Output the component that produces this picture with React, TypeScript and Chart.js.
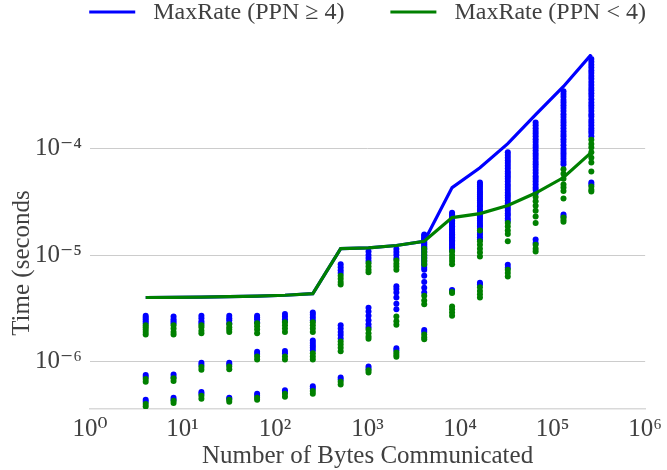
import React, { useEffect, useRef } from 'react';
import Chart from 'chart.js/auto';

const bytes = [4, 8, 16, 32, 64, 128, 256, 512, 1024, 2048, 4096, 8192, 16384, 32768, 65536, 131072, 262144];

const maxRateHighLabel = 'MaxRate (PPN ≥ 4)';
const maxRateLowLabel = 'MaxRate (PPN < 4)';
const xAxisTitle = 'Number of Bytes Communicated';
const yAxisTitle = 'Time (seconds';

const maxRateHigh = [4.0e-6, 4.02e-6, 4.04e-6, 4.07e-6, 4.12e-6, 4.2e-6, 4.35e-6, 1.15e-5, 1.17e-5, 1.23e-5, 1.35e-5, 4.3e-5, 6.6e-5, 1.11e-4, 2.08e-4, 3.82e-4, 7.64e-4];
const maxRateLow = [4.0e-6, 4.02e-6, 4.04e-6, 4.07e-6, 4.12e-6, 4.2e-6, 4.35e-6, 1.15e-5, 1.17e-5, 1.23e-5, 1.35e-5, 2.25e-5, 2.45e-5, 2.92e-5, 3.82e-5, 5.34e-5, 9.2e-5];

const highPpnTimes: number[][] = [
  [2.7e-6, 2.6e-6, 2.5e-6, 2.4e-6, 2.3e-6, 7.5e-7, 7.2e-7, 4.4e-7, 4.2e-7],
  [2.65e-6, 2.5e-6, 2.4e-6, 2.3e-6, 7.6e-7, 7.2e-7, 4.6e-7, 4.4e-7],
  [2.7e-6, 2.55e-6, 2.4e-6, 2.3e-6, 9.8e-7, 9.3e-7, 5.2e-7, 5.0e-7],
  [2.7e-6, 2.55e-6, 2.45e-6, 2.3e-6, 9.8e-7, 9.4e-7, 4.6e-7, 4.5e-7],
  [2.7e-6, 2.6e-6, 2.5e-6, 2.35e-6, 1.24e-6, 1.18e-6, 5.0e-7, 4.8e-7],
  [2.8e-6, 2.65e-6, 2.5e-6, 2.4e-6, 1.26e-6, 1.2e-6, 5.4e-7, 5.2e-7],
  [2.9e-6, 2.75e-6, 2.6e-6, 2.45e-6, 1.58e-6, 1.5e-6, 1.42e-6, 1.35e-6, 1.28e-6, 5.9e-7, 5.6e-7],
  [8.2e-6, 7.7e-6, 7.2e-6, 6.8e-6, 2.2e-6, 2.05e-6, 1.9e-6, 1.78e-6, 1.65e-6, 7.1e-7, 6.8e-7],
  [1.08e-5, 1.0e-5, 9.4e-6, 8.8e-6, 3.2e-6, 2.95e-6, 2.7e-6, 2.45e-6, 2.25e-6, 2.1e-6, 9.0e-7, 8.6e-7],
  [1.14e-5, 1.07e-5, 1.0e-5, 9.3e-6, 5.1e-6, 4.8e-6, 4.45e-6, 4.0e-6, 3.5e-6, 3.1e-6, 1.34e-6, 1.28e-6],
  [1.56e-5, 1.52e-5, 1.48e-5, 1.44e-5, 1.4e-5, 1.36e-5, 1.32e-5, 1.28e-5, 1.25e-5, 1.21e-5, 1.18e-5, 1.15e-5, 1.12e-5, 1.08e-5, 1.05e-5, 1.01e-5, 9.8e-6, 9.5e-6, 9.2e-6, 8.9e-6, 8.6e-6, 8.3e-6, 8.0e-6, 7.6e-6, 7.3e-6, 6.4e-6, 5.6e-6, 4.95e-6, 4.45e-6, 1.98e-6, 1.9e-6],
  [2.5e-5, 2.42e-5, 2.35e-5, 2.27e-5, 2.2e-5, 2.12e-5, 2.05e-5, 1.98e-5, 1.92e-5, 1.86e-5, 1.8e-5, 1.74e-5, 1.68e-5, 1.62e-5, 1.57e-5, 1.52e-5, 1.47e-5, 1.42e-5, 1.38e-5, 1.34e-5, 1.3e-5, 1.26e-5, 1.22e-5, 1.18e-5, 1.15e-5, 1.1e-5, 4.7e-6, 4.6e-6],
  [4.8e-5, 4.6e-5, 4.4e-5, 4.2e-5, 4.0e-5, 3.85e-5, 3.7e-5, 3.55e-5, 3.4e-5, 3.25e-5, 3.1e-5, 2.95e-5, 2.85e-5, 2.7e-5, 2.6e-5, 2.5e-5, 2.4e-5, 2.3e-5, 2.2e-5, 2.1e-5, 2.0e-5, 1.92e-5, 1.85e-5, 1.77e-5, 1.7e-5, 1.62e-5, 1.55e-5, 1.47e-5, 1.4e-5, 5.5e-6, 5.3e-6],
  [9.2e-5, 8.7e-5, 8.2e-5, 7.7e-5, 7.3e-5, 6.9e-5, 6.5e-5, 6.1e-5, 5.8e-5, 5.5e-5, 5.2e-5, 4.9e-5, 4.6e-5, 4.35e-5, 4.1e-5, 3.85e-5, 3.65e-5, 3.45e-5, 3.25e-5, 3.05e-5, 2.9e-5, 2.75e-5, 2.6e-5, 2.45e-5, 2.35e-5, 2.2e-5, 2.1e-5, 8.1e-6, 7.6e-6],
  [1.75e-4, 1.65e-4, 1.55e-4, 1.46e-4, 1.38e-4, 1.3e-4, 1.22e-4, 1.15e-4, 1.08e-4, 1.02e-4, 9.6e-5, 9.0e-5, 8.5e-5, 8.0e-5, 7.5e-5, 7.1e-5, 6.7e-5, 6.3e-5, 5.9e-5, 5.5e-5, 5.2e-5, 4.9e-5, 4.6e-5, 4.3e-5, 4.1e-5, 3.8e-5, 1.4e-5, 1.3e-5],
  [3.45e-4, 3.25e-4, 3.05e-4, 2.85e-4, 2.7e-4, 2.55e-4, 2.4e-4, 2.25e-4, 2.1e-4, 1.97e-4, 1.85e-4, 1.75e-4, 1.65e-4, 1.55e-4, 1.45e-4, 1.37e-4, 1.3e-4, 1.22e-4, 1.15e-4, 1.07e-4, 1.0e-4, 9.5e-5, 9.0e-5, 8.5e-5, 8.0e-5, 7.5e-5, 7.1e-5, 2.4e-5, 2.3e-5],
  [6.9e-4, 6.5e-4, 6.1e-4, 5.75e-4, 5.4e-4, 5.1e-4, 4.8e-4, 4.5e-4, 4.2e-4, 3.95e-4, 3.7e-4, 3.5e-4, 3.3e-4, 3.1e-4, 2.9e-4, 2.7e-4, 2.55e-4, 2.4e-4, 2.25e-4, 2.1e-4, 2.0e-4, 1.85e-4, 1.75e-4, 1.65e-4, 1.55e-4, 1.47e-4, 1.4e-4, 1.3e-4, 4.8e-5, 4.6e-5],
];

const lowPpnTimes: number[][] = [
  [2.2e-6, 2.1e-6, 2.0e-6, 1.9e-6, 1.8e-6, 6.9e-7, 6.5e-7, 4.0e-7, 3.8e-7],
  [2.2e-6, 2.05e-6, 1.9e-6, 1.8e-6, 7.0e-7, 6.6e-7, 4.3e-7, 4.1e-7],
  [2.2e-6, 2.1e-6, 1.95e-6, 1.85e-6, 8.9e-7, 8.4e-7, 4.8e-7, 4.5e-7],
  [2.25e-6, 2.1e-6, 2.0e-6, 1.9e-6, 9.0e-7, 8.5e-7, 4.4e-7, 4.2e-7],
  [2.3e-6, 2.15e-6, 2.0e-6, 1.85e-6, 1.12e-6, 1.05e-6, 4.6e-7, 4.4e-7],
  [2.35e-6, 2.2e-6, 2.05e-6, 1.9e-6, 1.12e-6, 1.05e-6, 5.0e-7, 4.7e-7],
  [2.35e-6, 2.2e-6, 2.05e-6, 1.9e-6, 1.2e-6, 1.12e-6, 1.05e-6, 5.3e-7, 5.0e-7],
  [6.4e-6, 6.0e-6, 5.6e-6, 5.3e-6, 1.55e-6, 1.45e-6, 1.35e-6, 1.25e-6, 6.5e-7, 6.1e-7],
  [8.4e-6, 7.8e-6, 7.3e-6, 6.9e-6, 2.0e-6, 1.85e-6, 1.72e-6, 1.64e-6, 8.3e-7, 7.9e-7],
  [8.9e-6, 8.3e-6, 7.8e-6, 7.3e-6, 2.65e-6, 2.4e-6, 2.22e-6, 1.22e-6, 1.16e-6, 1.11e-6],
  [1.15e-5, 1.07e-5, 1.0e-5, 9.4e-6, 8.8e-6, 8.2e-6, 4.15e-6, 3.75e-6, 3.45e-6, 1.8e-6, 1.7e-6, 1.62e-6],
  [1.08e-5, 1.0e-5, 9.4e-6, 8.8e-6, 8.2e-6, 4.5e-6, 4.4e-6, 3.3e-6, 3.1e-6, 2.9e-6, 2.7e-6],
  [1.7e-5, 1.35e-5, 1.25e-5, 1.15e-5, 1.06e-5, 9.7e-6, 5.0e-6, 4.6e-6, 4.3e-6, 4.0e-6],
  [2.0e-5, 1.85e-5, 1.7e-5, 1.58e-5, 1.35e-5, 7.3e-6, 6.8e-6, 6.3e-6],
  [3.5e-5, 3.2e-5, 2.9e-5, 2.6e-5, 2.3e-5, 2.0e-5, 1.25e-5, 1.15e-5, 1.08e-5],
  [6.4e-5, 5.8e-5, 5.2e-5, 4.6e-5, 4.3e-5, 4.0e-5, 3.4e-5, 2.25e-5, 2.15e-5, 2.06e-5],
  [1.21e-4, 1.1e-4, 1.02e-4, 9.2e-5, 8.2e-5, 7.4e-5, 6.1e-5, 4.4e-5, 4.1e-5, 3.95e-5],
];

const xTickValues = [1, 10, 100, 1e3, 1e4, 1e5, 1e6];
const xTickLabels = ['10⁰', '10¹', '10²', '10³', '10⁴', '10⁵', '10⁶'];
const yTickValues = [1e-6, 1e-5, 1e-4];
const yTickLabels = ['10⁻⁶', '10⁻⁵', '10⁻⁴'];

const BLUE = '#0000ff';
const GREEN = '#008000';
const TEXT = '#404040';
const FONT = '"Liberation Serif", "DejaVu Serif", serif';

const legendPlugin = {
  id: 'topLineLegend',
  afterDraw(chart: any) {
    const ctx = chart.ctx;
    const items = chart.data.datasets
      .filter((d: any) => d.showLine)
      .sort((a: any, b: any) => b.order - a.order);
    ctx.save();
    ctx.font = `24px ${FONT}`;
    const lineLen = 46, gap = 18, itemGap = 46;
    const widths = items.map((d: any) => ctx.measureText(d.label).width);
    const total = widths.reduce((a: number, w: number) => a + lineLen + gap + w, 0) + itemGap * (items.length - 1);
    let x = (chart.chartArea.left + chart.chartArea.right) / 2 - total / 2;
    const y = 12;
    items.forEach((d: any, i: number) => {
      ctx.strokeStyle = d.borderColor;
      ctx.lineWidth = 3.2;
      ctx.beginPath();
      ctx.moveTo(x, y);
      ctx.lineTo(x + lineLen, y);
      ctx.stroke();
      ctx.fillStyle = TEXT;
      ctx.textBaseline = 'middle';
      ctx.textAlign = 'left';
      ctx.fillText(d.label, x + lineLen + gap, y + 1);
      x += lineLen + gap + widths[i] + itemGap;
    });
    ctx.restore();
  },
};

const yTitlePlugin = {
  id: 'yTitle',
  afterDraw(chart: any) {
    const ctx = chart.ctx;
    ctx.save();
    ctx.font = `25px ${FONT}`;
    ctx.fillStyle = TEXT;
    ctx.translate(22, 263);
    ctx.rotate(-Math.PI / 2);
    ctx.textAlign = 'center';
    ctx.textBaseline = 'middle';
    ctx.fillText(yAxisTitle, 0, 0);
    ctx.restore();
  },
};

export default function App() {
  const ref = useRef<HTMLCanvasElement>(null);
  useEffect(() => {
    if (!ref.current) return;
    const pts = (arr: number[][]) => bytes.flatMap((b, i) => arr[i].map((t) => ({ x: b, y: t })));
    const line = (vals: number[]) => bytes.map((b, i) => ({ x: b, y: vals[i] }));
    const chart = new Chart(ref.current, {
      type: 'scatter',
      data: {
        datasets: [
          { label: maxRateLowLabel, data: line(maxRateLow), showLine: true, borderColor: GREEN, backgroundColor: GREEN, borderWidth: 3.2, pointRadius: 0, order: 0 },
          { label: maxRateHighLabel, data: line(maxRateHigh), showLine: true, borderColor: BLUE, backgroundColor: BLUE, borderWidth: 3.2, pointRadius: 0, order: 1 },
          { label: 'PPN < 4', data: pts(lowPpnTimes), showLine: false, backgroundColor: GREEN, borderColor: GREEN, borderWidth: 0, pointRadius: 3, order: 2 },
          { label: 'PPN ≥ 4', data: pts(highPpnTimes), showLine: false, backgroundColor: BLUE, borderColor: BLUE, borderWidth: 0, pointRadius: 3, order: 3 },
        ] as any,
      },
      options: {
        animation: false,
        responsive: false,
        devicePixelRatio: 1,
        layout: { padding: { top: 54, right: 14, left: 0, bottom: 0 } },
        plugins: { legend: { display: false }, tooltip: { enabled: false } },
        scales: {
          x: {
            type: 'logarithmic',
            min: 1,
            max: 1e6,
            afterBuildTicks: (s: any) => { s.ticks = xTickValues.map((v) => ({ value: v })); },
            afterFit: (s: any) => { s.height = 61; },
            ticks: {
              autoSkip: false,
              maxRotation: 0,
              padding: 5,
              color: TEXT,
              font: { family: FONT, size: 25 },
              callback: (_v: any, i: number) => xTickLabels[i],
            },
            grid: { display: false, drawTicks: false },
            border: { display: true, color: '#d9d9d9', width: 1.5 },
            title: { display: true, text: xAxisTitle, color: TEXT, font: { family: FONT, size: 25 }, padding: { top: 0, bottom: -1 } },
          },
          y: {
            type: 'logarithmic',
            min: 3.6e-7,
            max: 7.7e-4,
            afterBuildTicks: (s: any) => { s.ticks = yTickValues.map((v) => ({ value: v })); },
            afterFit: (s: any) => { s.width = 90; },
            ticks: {
              autoSkip: false,
              padding: 8,
              color: TEXT,
              font: { family: FONT, size: 25 },
              callback: (_v: any, i: number) => yTickLabels[i],
            },
            grid: { display: true, color: '#cccccc', lineWidth: 1, drawTicks: false },
            border: { display: false },
            title: { display: false },
          },
        },
      } as any,
      plugins: [legendPlugin, yTitlePlugin],
    });
    return () => chart.destroy();
  }, []);
  return (
    <div style={{ position: 'fixed', left: 0, top: 0, width: 667, height: 470, background: '#fff' }}>
      <canvas ref={ref} width={667} height={470} style={{ display: 'block' }} />
    </div>
  );
}
